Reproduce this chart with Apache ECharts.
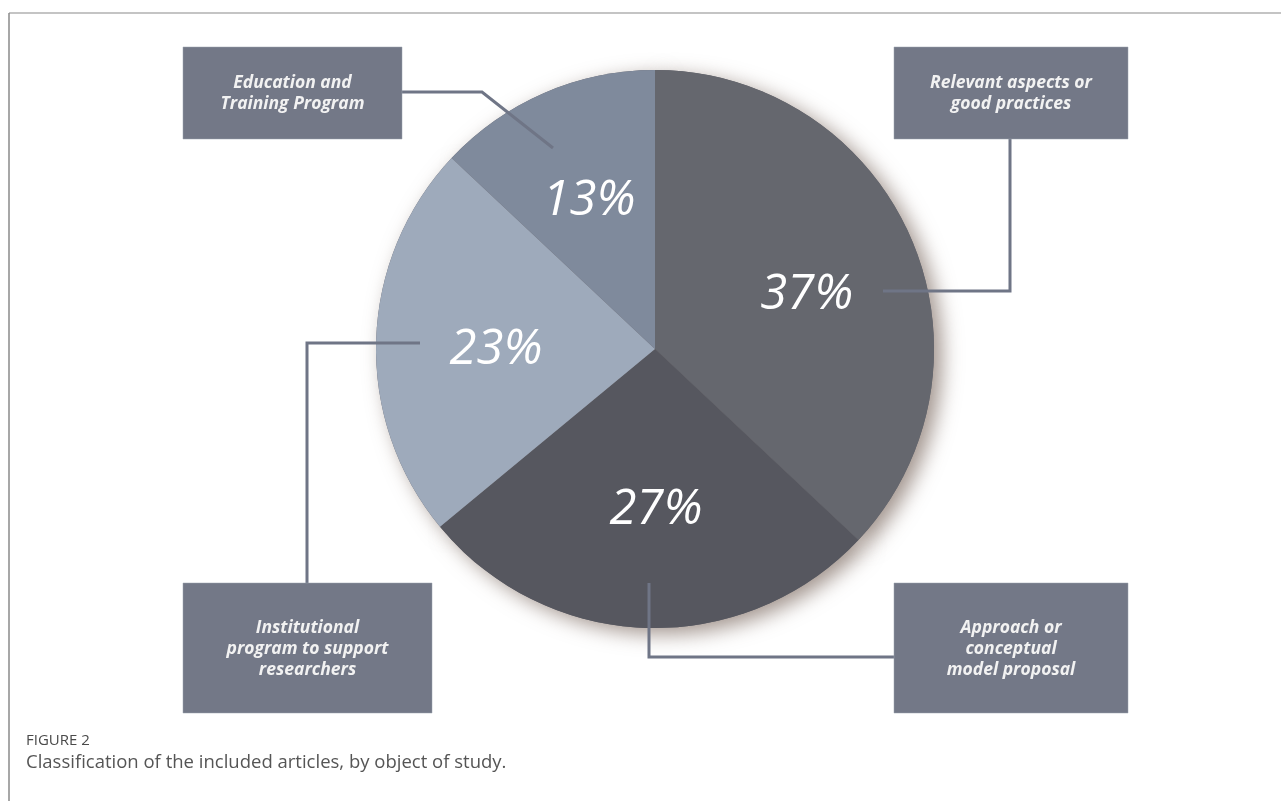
<!DOCTYPE html>
<html>
<head>
<meta charset="utf-8">
<script src="https://cdn.jsdelivr.net/npm/echarts@6/dist/echarts.min.js"></script>
<style>
html,body{margin:0;padding:0;background:#fff;}
#chart{width:1281px;height:801px;}
</style>
</head>
<body>
<div id="chart"></div>
<script>
// ---- data ----
const categories = [
  'Relevant aspects or good practices',
  'Approach or conceptual model proposal',
  'Institutional program to support researchers',
  'Education and Training Program'
];
const shares = [37, 27, 23, 13];
const boxLines = [
  ['Relevant aspects or', 'good practices'],
  ['Approach or', 'conceptual', 'model proposal'],
  ['Institutional', 'program to support', 'researchers'],
  ['Education and', 'Training Program']
];
const figureLabel = 'FIGURE 2';
const captionText = 'Classification of the included articles, by object of study.';

// ---- styles ----
const sliceColors = ['#65676e', '#56575f', '#9eaabb', '#7f8a9c'];
const labelOffsets = [[4, 10], [6, 0], [2, 6], [-2, 0]];
const boxColor = '#737887';
const lineColor = '#6f7586';
const CX = 655, CY = 349, R = 279;

const chart = echarts.init(document.getElementById('chart'), null, {renderer: 'canvas'});

const baseData = categories.map((c, i) => ({name: c, value: shares[i]}));

// boxes: [x, y, w, h]
const boxes = [
  [894, 47, 234, 92],
  [894, 583, 234, 130],
  [183, 583, 249, 130],
  [183, 47, 219, 92]
];
// connectors
const connectors = [
  [[1010, 139], [1010, 291], [883, 291]],
  [[894, 657], [649, 657], [649, 583]],
  [[307, 583], [307, 343], [420, 343]],
  [[402, 92], [482, 92], [553, 148]]
];

const graphics = [];
// frame
graphics.push({type: 'line', shape: {x1: 9, y1: 13, x2: 1281, y2: 13}, style: {stroke: '#b0b0b0', lineWidth: 1.5}, silent: true});
graphics.push({type: 'line', shape: {x1: 9, y1: 13, x2: 9, y2: 801}, style: {stroke: '#8a8a8a', lineWidth: 1.5}, silent: true});

connectors.forEach(pts => {
  graphics.push({type: 'polyline', shape: {points: pts}, style: {stroke: lineColor, lineWidth: 3, fill: null, lineJoin: 'miter'}, z: 20, silent: true});
});
boxes.forEach((b, i) => {
  graphics.push({type: 'rect', shape: {x: b[0], y: b[1], width: b[2], height: b[3]}, style: {fill: boxColor, stroke: '#9aa0ac', lineWidth: 0.5}, z: 21, silent: true});
  graphics.push({
    type: 'text', z: 22, silent: true,
    style: {
      text: boxLines[i].join('\n'),
      x: b[0] + b[2] / 2,
      y: b[1] + b[3] / 2 + 1,
      align: 'center', verticalAlign: 'middle',
      font: 'italic bold 17.5px "Open Sans"',
      lineHeight: 21,
      fill: '#f2f2f2'
    }
  });
});
graphics.push({type: 'text', silent: true, style: {text: figureLabel, x: 26, y: 741, verticalAlign: 'middle', font: '15px "Open Sans"', fill: '#4a4a4a'}});
graphics.push({type: 'text', silent: true, style: {text: captionText, x: 26, y: 763, verticalAlign: 'middle', font: '18.5px "Open Sans"', fill: '#555555'}});

const option = {
  animation: false,
  backgroundColor: '#ffffff',
  graphic: graphics,
  series: [
    {
      // shadow base
      type: 'pie', center: [CX, CY], radius: R, startAngle: 90, clockwise: true,
      silent: true, z: 1,
      label: {show: false}, labelLine: {show: false},
      itemStyle: {color: '#60616a', borderWidth: 0, shadowBlur: 20, shadowOffsetX: 8, shadowOffsetY: 6, shadowColor: 'rgba(100,78,66,0.6)'},
      emphasis: {disabled: true},
      data: baseData
    },
    {
      type: 'pie', center: [CX, CY], radius: R, startAngle: 90, clockwise: true,
      silent: true, z: 2,
      label: {show: false}, labelLine: {show: false},
      emphasis: {disabled: true},
      data: baseData.map((d, i) => ({name: d.name, value: d.value, itemStyle: {color: sliceColors[i], borderWidth: 0}}))
    },
    {
      // label carrier (transparent), places labels at ~0.57 R
      type: 'pie', center: [CX, CY], radius: 316, startAngle: 90, clockwise: true,
      silent: true, z: 3,
      itemStyle: {color: 'rgba(0,0,0,0)', borderWidth: 0},
      labelLine: {show: false},
      emphasis: {disabled: true},
      label: {
        show: true, position: 'inside',
        formatter: p => p.value + '%',
        fontFamily: 'Open Sans', fontStyle: 'italic', fontWeight: 500, fontSize: 49,
        color: '#ffffff', textBorderWidth: 0
      },
      data: baseData.map((d, i) => ({name: d.name, value: d.value, label: {offset: labelOffsets[i]}}))
    }
  ]
};
chart.setOption(option);
</script>
</body>
</html>
